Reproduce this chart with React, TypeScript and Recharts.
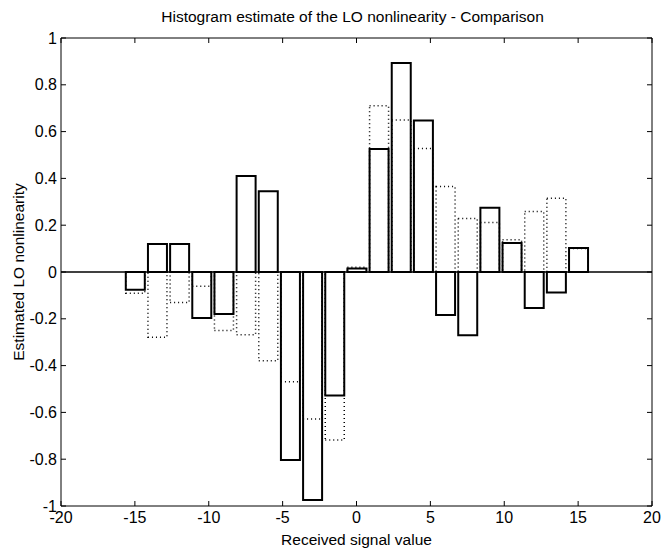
import {
  ComposedChart,
  Bar,
  XAxis,
  YAxis,
  ReferenceLine,
} from "recharts";

// bin centres of the histogram
const bins = [
  -15, -13.5, -12, -10.5, -9, -7.5, -6, -4.5, -3, -1.5, 0, 1.5, 3, 4.5, 6, 7.5,
  9, 10.5, 12, 13.5, 15,
];
// solid bars
const estimate = [
  -0.076, 0.12, 0.12, -0.197, -0.179, 0.41, 0.345, -0.803, -0.974, -0.528,
  0.015, 0.526, 0.893, 0.647, -0.184, -0.27, 0.275, 0.124, -0.154, -0.088,
  0.103,
];
// dotted bars
const comparison = [
  -0.091, -0.279, -0.13, -0.061, -0.25, -0.268, -0.379, -0.469, -0.628, -0.718,
  0.02, 0.711, 0.65, 0.528, 0.365, 0.229, 0.212, 0.138, 0.259, 0.315, 0.1,
];
const xTicks = [-20, -15, -10, -5, 0, 5, 10, 15, 20];
const yTicks = [-1, -0.8, -0.6, -0.4, -0.2, 0, 0.2, 0.4, 0.6, 0.8, 1];

const title = "Histogram estimate of the LO nonlinearity - Comparison";
const xLabel = "Received signal value";
const yLabel = "Estimated LO nonlinearity";

const data = bins.map((x, i) => ({
  x,
  estimate: estimate[i],
  comparison: comparison[i],
}));

const font = "'Liberation Sans', Arial, Helvetica, sans-serif";
const tickStyle = { fill: "#000", fontSize: 16, fontFamily: font };
const labelStyle = { fill: "#000", fontSize: 15.5, fontFamily: font };
const blank = () => "";

export default function App() {
  return (
    <div style={{ position: "absolute", left: 0, top: 0, background: "#fff" }}>
      <ComposedChart
        width={664}
        height={548}
        data={data}
        margin={{ top: 37, right: 11, bottom: 0, left: 0 }}
      >
        <XAxis
          xAxisId="bottom"
          dataKey="x"
          type="number"
          domain={[-20, 20]}
          ticks={xTicks}
          interval={0}
          height={42}
          tickSize={-5}
          tickMargin={11}
          stroke="#000"
          tick={tickStyle}
          label={{
            value: xLabel,
            position: "insideBottom",
            offset: 3,
            ...labelStyle,
          }}
        />
        <XAxis
          xAxisId="top"
          orientation="top"
          dataKey="x"
          type="number"
          domain={[-20, 20]}
          ticks={xTicks}
          interval={0}
          height={1}
          tickSize={-5}
          tickFormatter={blank}
          stroke="#000"
          label={{
            value: title,
            position: "top",
            offset: 15,
            dx: -4,
            ...labelStyle,
          }}
        />
        <YAxis
          yAxisId="left"
          type="number"
          domain={[-1, 1]}
          ticks={yTicks}
          interval={0}
          width={61}
          tickSize={-5}
          tickMargin={9}
          stroke="#000"
          tick={tickStyle}
          label={{
            value: yLabel,
            angle: -90,
            position: "insideLeft",
            offset: 18,
            ...labelStyle,
            style: { textAnchor: "middle" },
          }}
        />
        <YAxis
          yAxisId="right"
          orientation="right"
          type="number"
          domain={[-1, 1]}
          ticks={yTicks}
          interval={0}
          width={1}
          tickSize={-5}
          tickFormatter={blank}
          stroke="#000"
        />
        <ReferenceLine xAxisId="bottom" yAxisId="left" y={0} stroke="#000" strokeWidth={1.5} />
        <Bar
          xAxisId="top"
          yAxisId="right"
          dataKey="comparison"
          barSize={19}
          fill="none"
          stroke="#000"
          strokeWidth={1.5}
          strokeDasharray="1 3"
          isAnimationActive={false}
        />
        <Bar
          xAxisId="bottom"
          yAxisId="left"
          dataKey="estimate"
          barSize={19}
          fill="none"
          stroke="#000"
          strokeWidth={2}
          isAnimationActive={false}
        />
      </ComposedChart>
    </div>
  );
}
